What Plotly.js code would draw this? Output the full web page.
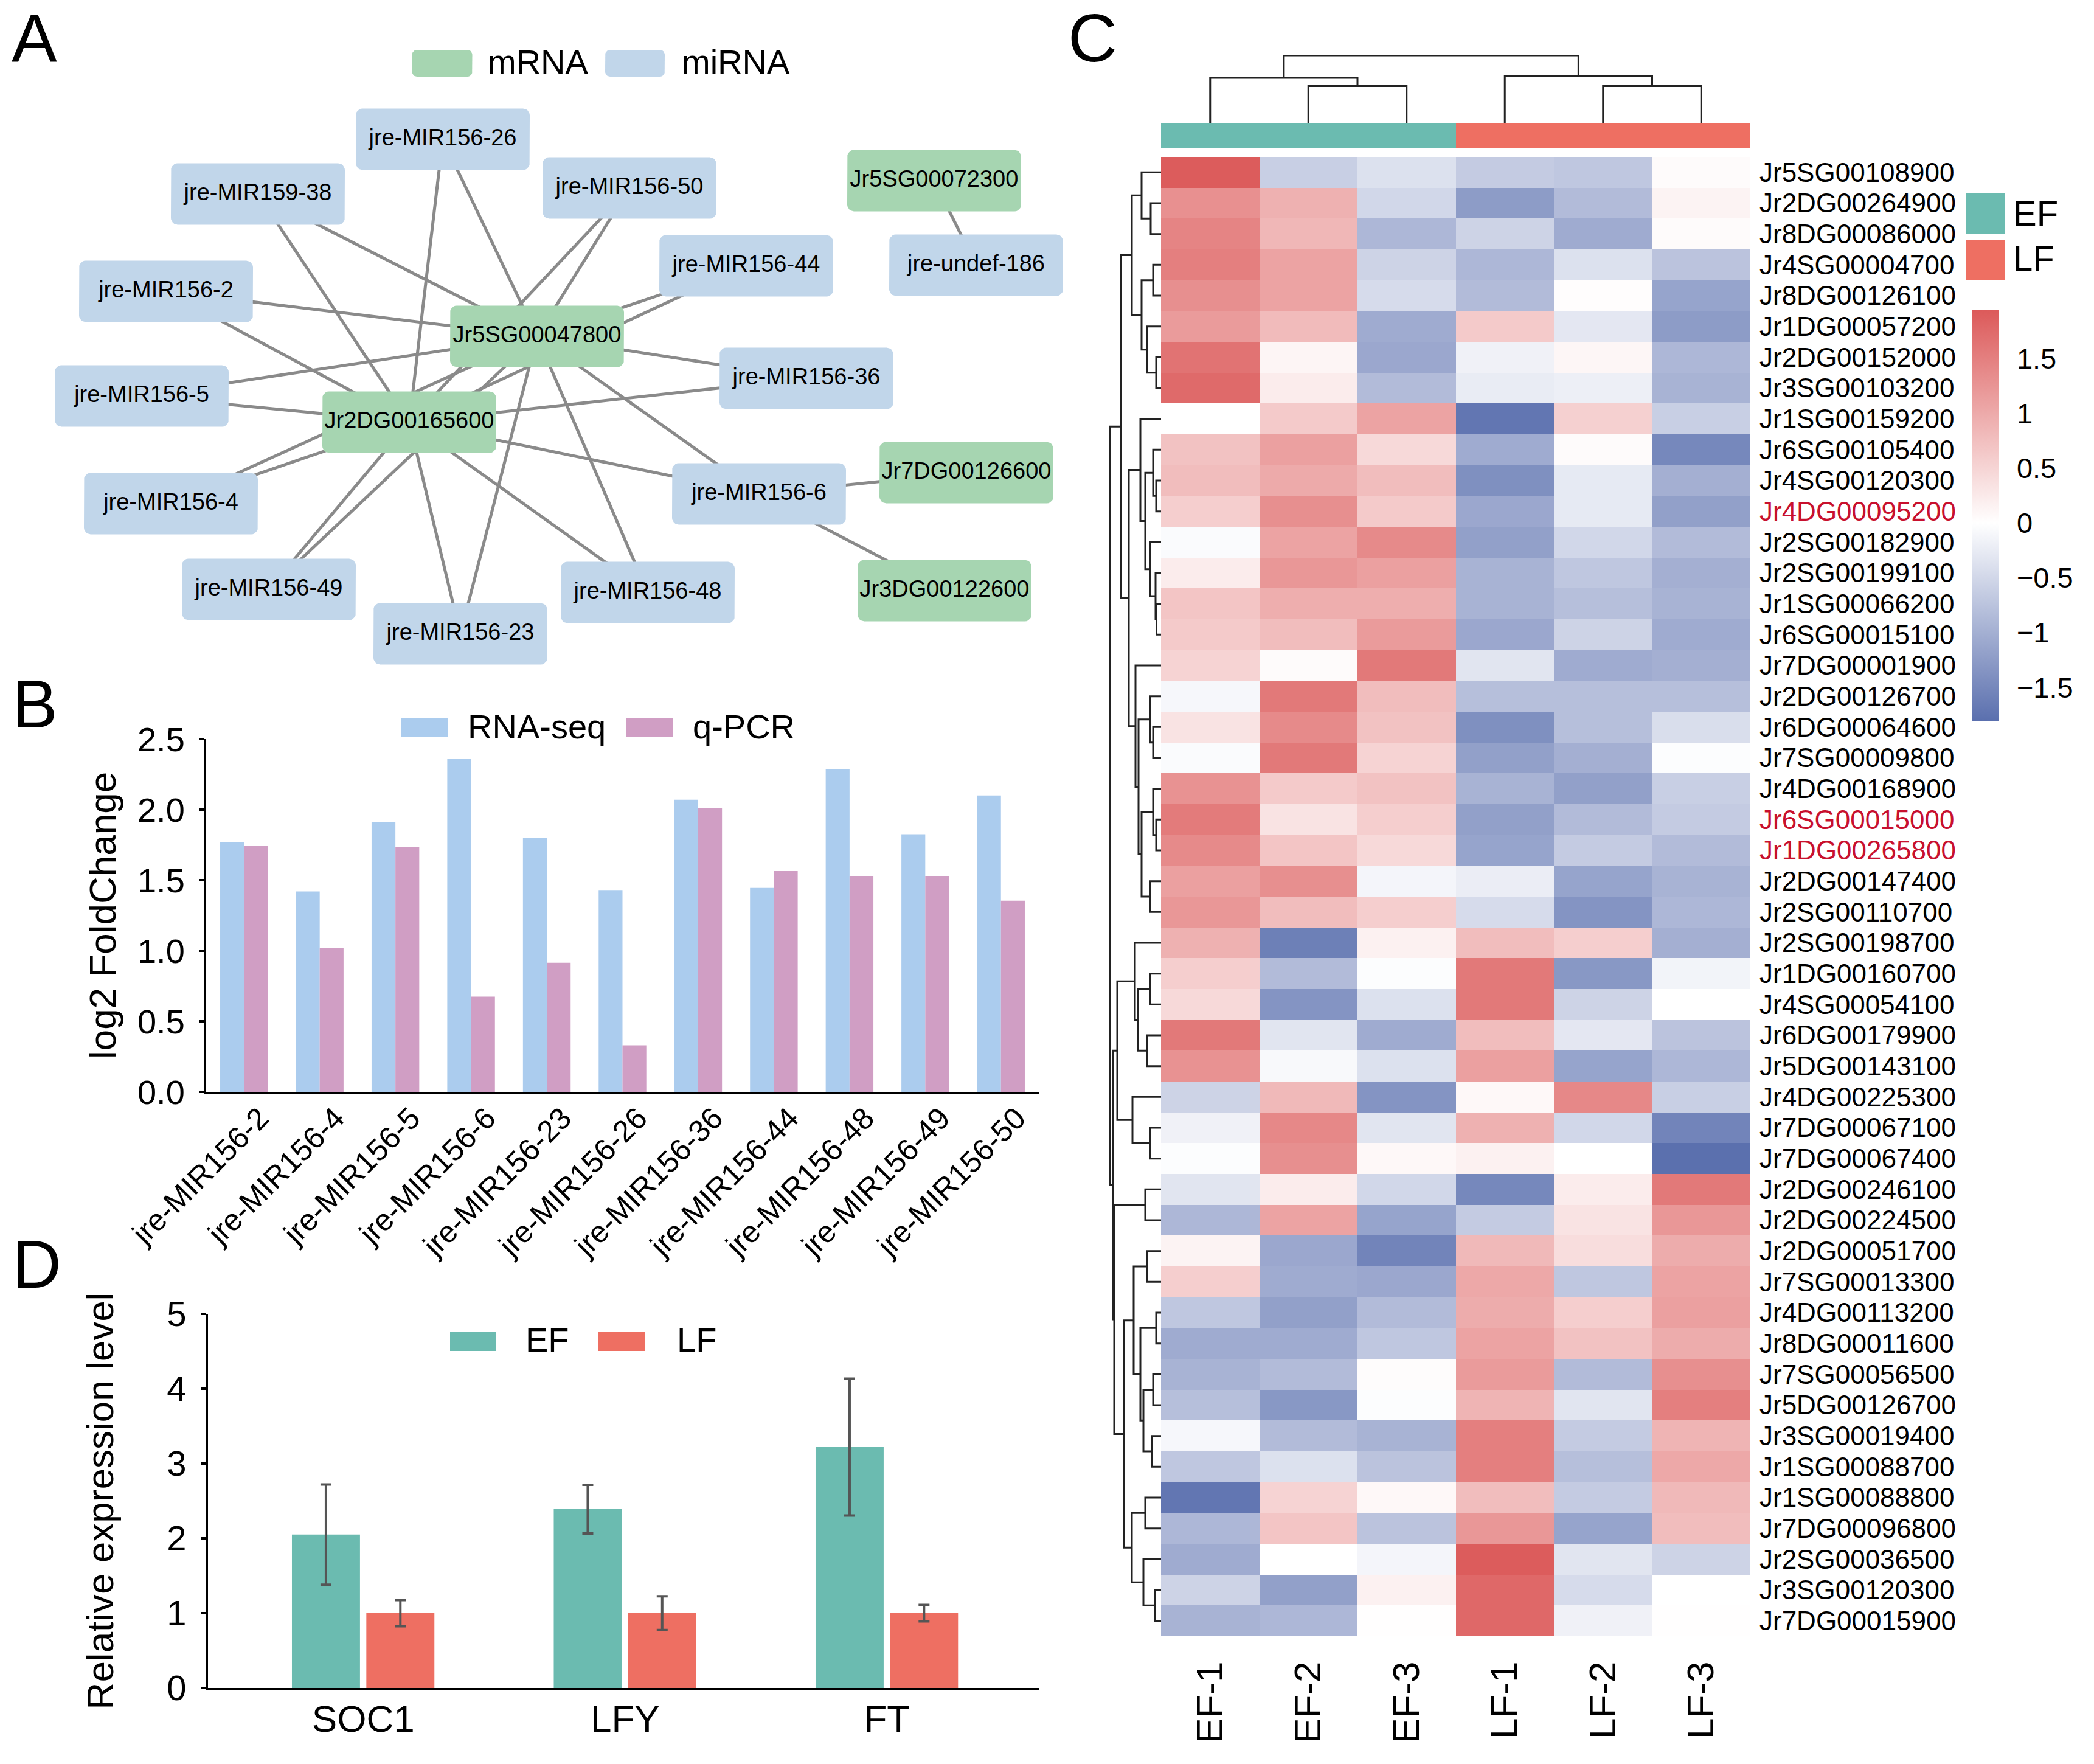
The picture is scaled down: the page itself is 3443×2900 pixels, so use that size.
<!DOCTYPE html>
<html><head><meta charset="utf-8">
<script src="https://cdn.plot.ly/plotly-3.0.1.min.js"></script>
<style>html,body{margin:0;padding:0;background:#fff}</style></head>
<body><div id="chart" style="width:3443px;height:2900px"></div>
<script>
// ---------- Panel B data ----------
const mirCategories = ['jre-MIR156-2','jre-MIR156-4','jre-MIR156-5','jre-MIR156-6','jre-MIR156-23','jre-MIR156-26','jre-MIR156-36','jre-MIR156-44','jre-MIR156-48','jre-MIR156-49','jre-MIR156-50'];
const rnaSeq = [1.77,1.42,1.91,2.36,1.80,1.43,2.07,1.445,2.285,1.825,2.10];
const qPcr   = [1.745,1.02,1.735,0.675,0.915,0.33,2.01,1.565,1.53,1.53,1.355];

// ---------- Panel D data ----------
const genes = ['SOC1','LFY','FT'];
const efLevel = [2.05,2.39,3.22];
const efError = [0.67,0.325,0.915];
const lfLevel = [1,1,1];
const lfError = [0.175,0.225,0.11];

// ---------- Panel A data ----------
const nodeNames = ['Jr5SG00047800','Jr2DG00165600','jre-MIR156-26','jre-MIR159-38','jre-MIR156-50','Jr5SG00072300','jre-undef-186','jre-MIR156-44','jre-MIR156-2','jre-MIR156-5','jre-MIR156-36','Jr7DG00126600','jre-MIR156-6','jre-MIR156-4','Jr3DG00122600','jre-MIR156-49','jre-MIR156-48','jre-MIR156-23'];
const nodeX = [883,673,728,424,1035,1536,1605,1227,273,233,1326,1589,1248,281,1553,442,1065,757];
const nodeY = [553,694,229,319,309,297,436,437,479,651,622,777,812,828,971,969,974,1042];
const edgesFromHubs = ['jre-MIR156-26','jre-MIR159-38','jre-MIR156-50','jre-MIR156-44','jre-MIR156-2','jre-MIR156-5','jre-MIR156-36','jre-MIR156-6','jre-MIR156-4','jre-MIR156-49','jre-MIR156-48','jre-MIR156-23'];
const otherEdges = [['jre-undef-186','Jr5SG00072300'],['jre-MIR156-6','Jr7DG00126600'],['jre-MIR156-6','Jr3DG00122600']];

// ---------- Panel C data ----------
const sampleLabels = ['EF-1','EF-2','EF-3','LF-1','LF-2','LF-3'];
const sampleGroups = [0,0,0,1,1,1];
const geneLabels = ['Jr5SG00108900','Jr2DG00264900','Jr8DG00086000','Jr4SG00004700','Jr8DG00126100','Jr1DG00057200','Jr2DG00152000','Jr3SG00103200','Jr1SG00159200','Jr6SG00105400','Jr4SG00120300','Jr4DG00095200','Jr2SG00182900','Jr2SG00199100','Jr1SG00066200','Jr6SG00015100','Jr7DG00001900','Jr2DG00126700','Jr6DG00064600','Jr7SG00009800','Jr4DG00168900','Jr6SG00015000','Jr1DG00265800','Jr2DG00147400','Jr2SG00110700','Jr2SG00198700','Jr1DG00160700','Jr4SG00054100','Jr6DG00179900','Jr5DG00143100','Jr4DG00225300','Jr7DG00067100','Jr7DG00067400','Jr2DG00246100','Jr2DG00224500','Jr2DG00051700','Jr7SG00013300','Jr4DG00113200','Jr8DG00011600','Jr7SG00056500','Jr5DG00126700','Jr3SG00019400','Jr1SG00088700','Jr1SG00088800','Jr7DG00096800','Jr2SG00036500','Jr3SG00120300','Jr7DG00015900'];
const highlightedGenes = ['Jr4DG00095200','Jr6SG00015000','Jr1DG00265800'];
const expression = [
[1.92,-0.6,-0.38,-0.65,-0.7,0.05],
[1.3,0.92,-0.5,-1.25,-0.85,0.14],
[1.45,0.85,-0.9,-0.55,-1.05,0.05],
[1.5,1.08,-0.55,-0.9,-0.38,-0.75],
[1.32,1.08,-0.45,-0.85,0.02,-1.15],
[1.18,0.8,-1.05,0.62,-0.3,-1.25],
[1.65,0.12,-1.1,-0.17,0.1,-0.9],
[1.75,0.22,-0.85,-0.24,-0.2,-0.95],
[0.0,0.62,1.08,-1.72,0.55,-0.6],
[0.72,1.12,0.45,-1.05,0.05,-1.5],
[0.78,1.0,0.78,-1.4,-0.27,-1.0],
[0.58,1.32,0.62,-1.1,-0.27,-1.2],
[-0.05,1.08,1.38,-1.2,-0.5,-0.85],
[0.22,1.22,1.12,-0.95,-0.7,-1.0],
[0.68,0.95,0.95,-0.95,-0.8,-0.95],
[0.62,0.78,1.18,-1.1,-0.55,-1.05],
[0.52,0.05,1.58,-0.33,-1.05,-1.0],
[-0.1,1.58,0.78,-0.8,-0.8,-0.8],
[0.33,1.38,0.72,-1.4,-0.8,-0.42],
[-0.05,1.58,0.52,-1.2,-1.0,-0.03],
[1.28,0.62,0.72,-0.95,-1.2,-0.6],
[1.55,0.33,0.58,-1.2,-0.85,-0.65],
[1.38,0.68,0.45,-1.15,-0.65,-0.85],
[1.12,1.32,-0.12,-0.22,-1.15,-0.95],
[1.22,0.78,0.58,-0.45,-1.35,-0.9],
[0.92,-1.6,0.17,0.78,0.58,-1.0],
[0.58,-0.85,-0.03,1.58,-1.3,-0.14],
[0.45,-1.35,-0.38,1.58,-0.55,0],
[1.58,-0.33,-1.05,0.78,-0.3,-0.75],
[1.28,-0.08,-0.38,1.12,-1.15,-0.9],
[-0.55,0.82,-1.35,0.08,1.4,-0.6],
[-0.17,1.4,-0.33,0.92,-0.5,-1.55],
[-0.03,1.32,0.08,0.17,0.0,-1.8],
[-0.33,0.22,-0.5,-1.5,0.22,1.58],
[-0.9,1.08,-1.15,-0.65,0.33,1.22],
[0.14,-1.1,-1.55,0.82,0.4,0.98],
[0.58,-1.05,-1.1,1.02,-0.7,1.08],
[-0.7,-1.2,-0.85,0.98,0.58,1.12],
[-1.05,-1.05,-0.7,1.08,0.72,0.98],
[-0.95,-0.85,0.03,1.18,-0.85,1.32],
[-0.8,-1.3,-0.03,0.88,-0.33,1.5],
[-0.1,-0.85,-0.95,1.5,-0.65,0.88],
[-0.7,-0.38,-0.75,1.5,-0.8,1.02],
[-1.72,0.52,0.08,0.78,-0.65,0.82],
[-0.9,0.68,-0.75,1.22,-1.15,0.78],
[-1.05,0.0,-0.12,1.92,-0.33,-0.55],
[-0.55,-1.2,0.17,1.78,-0.45,0],
[-0.95,-0.9,0.01,1.78,-0.17,0.01]
];
const colorTickVals = [1.5,1,0.5,0,-0.5,-1,-1.5];
const colorTickText = ['1.5','1','0.5','0','\u22120.5','\u22121','\u22121.5'];
// dendrograms: [left, right, merge height]; a bare number is a leaf index
const colTree = [[0,[1,2,95],116],[3,[4,5,95],120],174];
const rowTree = [
  [
    [[0,[1,2,17],32],[[3,4,13],[5,[6,7,8],23],32],48],
    [
      [8,[[9,[10,11,8],13],[12,[13,[14,15,7.5],9],18],26],34],
      [16,[[17,[18,19,13],18],[[20,[21,22,8],13],[23,24,18],32],37],42],
      53
    ],
    66
  ],
  [
    [[25,[[26,27,18],[28,29,23],38],43],[30,[31,32,18],47],72],
    [[33,34,26],[[[35,36,23],[[37,38,8],[[39,40,13],[41,42,15],29],34],45],[[43,44,26],[45,[46,47,10],29],48],61],77],
    79
  ],
  84
];

// ---------- layout helpers ----------
const W = 3443, H = 2900, FONT = '"Liberation Sans", Arial, sans-serif';
const TEAL = '#6BBBB0', RED = '#EE6F62', BLUE_BAR = '#ABCCEE', PINK_BAR = '#D09EC4', GREEN_NODE = '#A6D5B1', BLUE_NODE = '#C1D6EA';
const px = x => x / W, py = y => 1 - y / H;
const domX = (a, b) => [px(a), px(b)], domY = (top, bottom) => [py(bottom), py(top)];

function dendro(tree) {
  const pos = [], h = [];
  (function walk(n) {
    if (typeof n === 'number') return {p: n, h: 0};
    const a = walk(n[0]), b = walk(n[1]);
    pos.push(a.p, a.p, b.p, b.p, null);
    h.push(a.h, n[2], n[2], b.h, null);
    return {p: (a.p + b.p) / 2, h: n[2]};
  })(tree);
  return {pos, h};
}
function boxes(names, w, h, r) {
  const xs = [], ys = [];
  names.forEach(n => {
    const i = nodeNames.indexOf(n), c = [nodeX[i], nodeY[i]];
    roundRect(c[0], c[1], w, h, r, xs, ys);
  });
  return {xs, ys};
}
function roundRect(cx, cy, w, h, r, xs, ys) {
  const corners = [[cx + w/2 - r, cy - h/2 + r, -90], [cx + w/2 - r, cy + h/2 - r, 0], [cx - w/2 + r, cy + h/2 - r, 90], [cx - w/2 + r, cy - h/2 + r, 180]];
  corners.forEach(c => {
    for (let k = 0; k <= 6; k++) {
      const t = (c[2] + 15 * k) * Math.PI / 180;
      xs.push(c[0] + r * Math.cos(t)); ys.push(c[1] + r * Math.sin(t));
    }
  });
  xs.push(xs[xs.length - 28], null); ys.push(ys[ys.length - 28], null);
}

// ---------- network traces (axes x5/y6, units are pixels of the panel) ----------
const edgeX = [], edgeY = [];
function edge(a, b) {
  const i = nodeNames.indexOf(a), j = nodeNames.indexOf(b);
  edgeX.push(nodeX[i], nodeX[j], null); edgeY.push(nodeY[i], nodeY[j], null);
}
edgesFromHubs.forEach(m => { edge(m, nodeNames[0]); edge(m, nodeNames[1]); });
otherEdges.forEach(e => edge(e[0], e[1]));
const isGene = n => n.startsWith('Jr');
const mBox = boxes(nodeNames.filter(isGene), 286, 101, 11);
const miBox = boxes(nodeNames.filter(n => !isGene(n)), 286, 101, 11);
const legM = {xs: [], ys: []}, legMi = {xs: [], ys: []};
roundRect(727, 104, 99, 44, 8, legM.xs, legM.ys);
roundRect(1044, 104, 98, 44, 8, legMi.xs, legMi.ys);
const netAxes = {xaxis: 'x5', yaxis: 'y6', hoverinfo: 'skip', showlegend: false, cliponaxis: false};

const colD = dendro(colTree), rowD = dendro(rowTree);
const stops = [[0, '#5A6FAE'], [1.81 / 3.75, '#FFFFFF'], [1, '#DC5A5A']];

const data = [
  // Panel A
  {type: 'scatter', mode: 'lines', x: edgeX, y: edgeY, line: {color: '#8A8A8A', width: 5}, ...netAxes},
  {type: 'scatter', mode: 'lines', x: mBox.xs, y: mBox.ys, fill: 'toself', fillcolor: GREEN_NODE, line: {width: 0, color: GREEN_NODE}, ...netAxes},
  {type: 'scatter', mode: 'lines', x: miBox.xs, y: miBox.ys, fill: 'toself', fillcolor: BLUE_NODE, line: {width: 0, color: BLUE_NODE}, ...netAxes},
  {type: 'scatter', mode: 'lines', x: legM.xs, y: legM.ys, fill: 'toself', fillcolor: GREEN_NODE, line: {width: 0, color: GREEN_NODE}, ...netAxes},
  {type: 'scatter', mode: 'lines', x: legMi.xs, y: legMi.ys, fill: 'toself', fillcolor: BLUE_NODE, line: {width: 0, color: BLUE_NODE}, ...netAxes},
  {type: 'scatter', mode: 'text', x: nodeX, y: nodeY, text: nodeNames, textposition: 'middle center', textfont: {family: FONT, size: 38, color: '#000'}, ...netAxes},
  // Panel B
  {type: 'bar', name: 'RNA-seq', x: mirCategories, y: rnaSeq, marker: {color: BLUE_BAR}, width: 0.315, offset: -0.315, xaxis: 'x', yaxis: 'y', showlegend: false},
  {type: 'bar', name: 'q-PCR', x: mirCategories, y: qPcr, marker: {color: PINK_BAR}, width: 0.315, offset: 0, xaxis: 'x', yaxis: 'y', showlegend: false},
  // Panel D
  {type: 'bar', name: 'EF', x: genes, y: efLevel, marker: {color: TEAL}, width: 0.26, offset: -0.2725, xaxis: 'x2', yaxis: 'y2', showlegend: false,
    error_y: {type: 'data', array: efError, color: '#555555', thickness: 4, width: 9}},
  {type: 'bar', name: 'LF', x: genes, y: lfLevel, marker: {color: RED}, width: 0.26, offset: 0.0117, xaxis: 'x2', yaxis: 'y2', showlegend: false,
    error_y: {type: 'data', array: lfError, color: '#555555', thickness: 4, width: 9}},
  // Panel C
  {type: 'heatmap', z: expression, x: sampleLabels.map((_, i) => i), y: geneLabels.map((_, i) => i), xaxis: 'x3', yaxis: 'y3',
    colorscale: stops, zmin: -1.81, zmax: 1.94, xgap: 0, ygap: 0, hoverinfo: 'skip',
    colorbar: {x: px(3243), xanchor: 'left', y: py(510), yanchor: 'top', lenmode: 'pixels', len: 676, thicknessmode: 'pixels', thickness: 44,
      xpad: 0, ypad: 0, outlinewidth: 0, tickmode: 'array', tickvals: colorTickVals, ticktext: colorTickText,
      ticks: 'outside', ticklen: 20, tickcolor: 'rgba(0,0,0,0)', tickfont: {family: FONT, size: 47, color: '#000'}}},
  {type: 'heatmap', z: [sampleGroups], x: sampleGroups.map((_, i) => i), y: [0], xaxis: 'x3', yaxis: 'y4', showscale: false, hoverinfo: 'skip',
    colorscale: [[0, TEAL], [0.5, TEAL], [0.5, RED], [1, RED]], zmin: 0, zmax: 1},
  {type: 'scatter', mode: 'lines', x: colD.pos, y: colD.h, line: {color: '#222', width: 3}, xaxis: 'x3', yaxis: 'y5', hoverinfo: 'skip', showlegend: false, cliponaxis: false},
  {type: 'scatter', mode: 'lines', x: rowD.h, y: rowD.pos, line: {color: '#222', width: 3}, xaxis: 'x4', yaxis: 'y3', hoverinfo: 'skip', showlegend: false, cliponaxis: false}
];

const hidden = {visible: false, fixedrange: true};
const axisCommon = {showgrid: false, zeroline: false, showline: true, linecolor: '#000', linewidth: 4, color: '#000'};
const swatch = (x0, x1, y0, y1, color) => ({type: 'rect', xref: 'paper', yref: 'paper', x0: px(x0), x1: px(x1), y0: py(y1), y1: py(y0), fillcolor: color, line: {width: 0}});
const label = (text, x, y, size, anchor) => ({text, x: px(x), y: py(y), xref: 'paper', yref: 'paper', showarrow: false, xanchor: anchor || 'left', yanchor: 'middle', font: {family: FONT, size, color: '#000'}});

const layout = {
  width: W, height: H, margin: {l: 0, r: 0, t: 0, b: 0}, paper_bgcolor: '#fff', plot_bgcolor: 'rgba(0,0,0,0)', showlegend: false, hovermode: false,
  font: {family: FONT, color: '#000'},
  barmode: 'overlay',
  // Panel B axes
  xaxis: {...axisCommon, domain: domX(339, 1708), anchor: 'y', type: 'category', categoryorder: 'array', categoryarray: mirCategories, range: [-0.5, 10.5],
    ticks: '', tickangle: -45, ticklabelshift: 26, ticklabelstandoff: -10, tickfont: {family: FONT, size: 50, color: '#000'}},
  yaxis: {...axisCommon, domain: domY(1215, 1795), anchor: 'x', range: [0, 2.5], tickvals: [0, 0.5, 1, 1.5, 2, 2.5], ticktext: ['0.0', '0.5', '1.0', '1.5', '2.0', '2.5'],
    ticks: 'outside', ticklen: 8, tickwidth: 4, tickcolor: '#000', ticklabelstandoff: 12, tickfont: {family: FONT, size: 56, color: '#000'},
    title: {text: 'log2 FoldChange', standoff: 16, font: {family: FONT, size: 62, color: '#000'}}},
  // Panel D axes
  xaxis2: {...axisCommon, domain: domX(342, 1708), anchor: 'y2', type: 'category', categoryorder: 'array', categoryarray: genes, range: [-0.593, 2.58],
    ticks: '', tickfont: {family: FONT, size: 62, color: '#000'}, ticklabelstandoff: -6},
  yaxis2: {...axisCommon, domain: domY(2160, 2775), anchor: 'x2', range: [0, 5], tickvals: [0, 1, 2, 3, 4, 5],
    ticks: 'outside', ticklen: 8, tickwidth: 4, tickcolor: '#000', ticklabelstandoff: 12, tickfont: {family: FONT, size: 58, color: '#000'},
    title: {text: 'Relative expression level', standoff: 68, font: {family: FONT, size: 62, color: '#000'}}},
  // Panel C axes
  xaxis3: {domain: domX(1909, 2878), anchor: 'y3', range: [-0.5, 5.5], showgrid: false, zeroline: false, showline: false, ticks: '',
    tickmode: 'array', tickvals: sampleLabels.map((_, i) => i), ticktext: sampleLabels, tickangle: -90, ticklabelstandoff: 28, tickfont: {family: FONT, size: 62, color: '#000'}},
  yaxis3: {domain: domY(258, 2690), anchor: 'x3', side: 'right', range: [47.5, -0.5], showgrid: false, zeroline: false, showline: false, ticks: '',
    tickmode: 'array', tickvals: geneLabels.map((_, i) => i),
    ticktext: geneLabels.map(g => highlightedGenes.includes(g) ? '<span style="color:#C8102E">' + g + '</span>' : g),
    ticklabelstandoff: 14, tickfont: {family: FONT, size: 44, color: '#000'}},
  yaxis4: {...hidden, domain: domY(202, 244), anchor: 'x3', range: [-0.5, 0.5]},
  yaxis5: {...hidden, domain: domY(91, 202), anchor: 'x3', range: [0, 174]},
  xaxis4: {...hidden, domain: domX(1819, 1909), anchor: 'y3', range: [90, 0]},
  // Panel A canvas
  xaxis5: {...hidden, domain: domX(0, 1760), anchor: 'y6', range: [0, 1760]},
  yaxis6: {...hidden, domain: domY(0, 1100), anchor: 'x5', range: [1100, 0]},
  shapes: [
    swatch(660, 737, 1180, 1212, BLUE_BAR), swatch(1029, 1106, 1180, 1212, PINK_BAR),
    swatch(740, 815, 2189, 2221, TEAL), swatch(984, 1061, 2189, 2221, RED),
    swatch(3232, 3296, 318, 384, TEAL), swatch(3232, 3296, 394, 461, RED)
  ],
  annotations: [
    label('A', 17, 63, 112), label('B', 18, 1157, 112), label('C', 1754, 63, 112), label('D', 18, 2078, 112),
    label('mRNA', 800, 102, 56), label('miRNA', 1119, 102, 56),
    label('RNA-seq', 767, 1194, 56), label('q-PCR', 1137, 1194, 56),
    label('EF', 862, 2202, 56), label('LF', 1111, 2202, 56),
    label('EF', 3308, 350, 58), label('LF', 3308, 424, 58)
  ]
};
Plotly.newPlot('chart', data, layout, {staticPlot: true, displayModeBar: false});
</script></body></html>
